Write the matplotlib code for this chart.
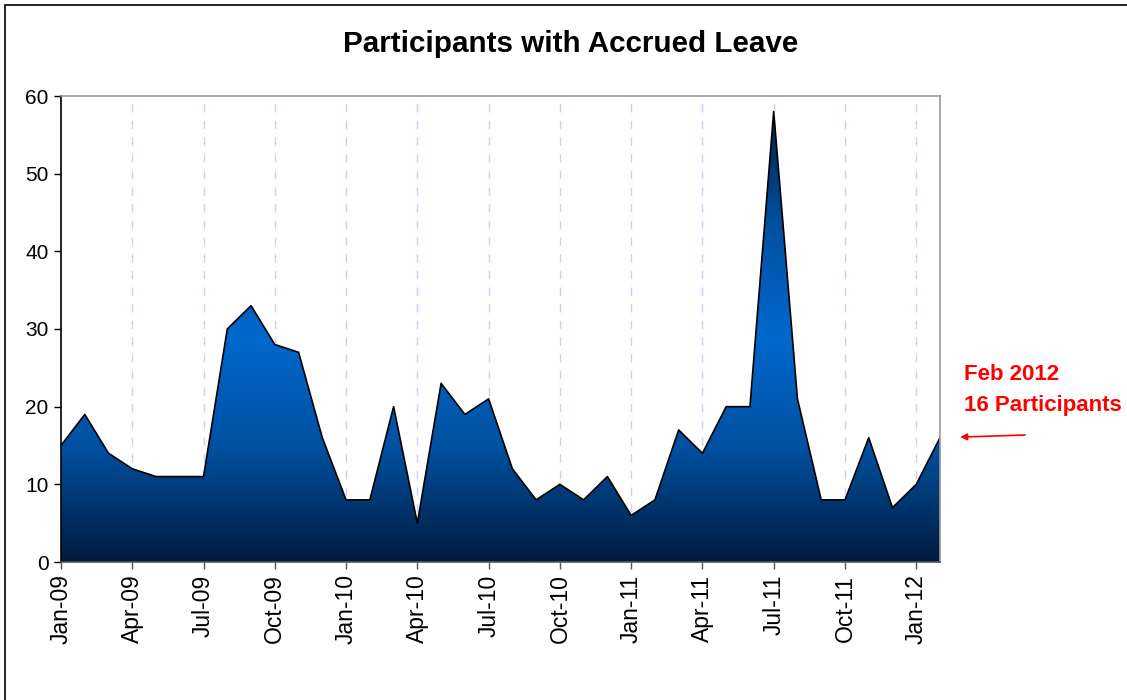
import matplotlib
matplotlib.use("Agg")
import matplotlib.pyplot as plt
import numpy as np
from matplotlib.colors import LinearSegmentedColormap
from matplotlib.patches import Polygon, Rectangle

plt.rcParams['font.family'] = ['Liberation Sans', 'DejaVu Sans']

months = ["Jan-09","Feb-09","Mar-09","Apr-09","May-09","Jun-09","Jul-09","Aug-09","Sep-09","Oct-09","Nov-09","Dec-09",
          "Jan-10","Feb-10","Mar-10","Apr-10","May-10","Jun-10","Jul-10","Aug-10","Sep-10","Oct-10","Nov-10","Dec-10",
          "Jan-11","Feb-11","Mar-11","Apr-11","May-11","Jun-11","Jul-11","Aug-11","Sep-11","Oct-11","Nov-11","Dec-11",
          "Jan-12","Feb-12"]
participants = [15, 19, 14, 12, 11, 11, 11, 30, 33, 28, 27, 16,
                8, 8, 20, 5, 23, 19, 21, 12, 8, 10, 8, 11,
                6, 8, 17, 14, 20, 20, 58, 21, 8, 8, 16, 7,
                10, 16]
y_ticks = [0, 10, 20, 30, 40, 50, 60]

fig = plt.figure(figsize=(11.27, 7.0), dpi=100)
fig.patches.append(Rectangle((5/1127, -0.01), 1.2, 1 - 5/700 + 0.01, transform=fig.transFigure,
                             fill=False, edgecolor='black', linewidth=1.2))
ax = fig.add_axes([61/1127, 1 - 562/700, (940 - 61)/1127, (562 - 96)/700])

x = np.arange(len(participants))
y = np.array(participants, dtype=float)

cmap = LinearSegmentedColormap.from_list('g', ['#001a3d', '#0050a0', '#0068cc', '#0050a0', '#001f48'])
ymax = y.max()
grad = np.linspace(0, 1, 256).reshape(-1, 1)
im = ax.imshow(grad, cmap=cmap, aspect='auto', origin='lower',
               extent=[x[0], x[-1], 0, ymax], zorder=2)
verts = np.column_stack([np.r_[x[0], x, x[-1]], np.r_[0, y, 0]])
poly = Polygon(verts, closed=True, facecolor='none', edgecolor='none')
ax.add_patch(poly)
im.set_clip_path(poly)
ax.plot(x, y, color='black', linewidth=1.2, zorder=3)
ax.plot([x[-1], x[-1]], [0, y[-1]], color='black', linewidth=1.0, zorder=3)

ax.set_xlim(x[0], x[-1])
ax.set_ylim(0, 60)
tick_pos = list(range(0, len(months), 3))
ax.set_xticks(tick_pos)
ax.set_xticklabels([months[i] for i in tick_pos], rotation=90, fontsize=16.5)
ax.set_yticks(y_ticks)
ax.set_yticklabels([str(v) for v in y_ticks], fontsize=15)
ax.tick_params(axis='both', direction='out', length=5, width=1, colors='black', pad=4)
ax.tick_params(axis='x', color='#555555')
for p in tick_pos[1:]:
    ax.axvline(p, color='#ccccff', linestyle=(0, (6, 6)), linewidth=1, zorder=1)

ax.spines['left'].set_color('black')
ax.spines['bottom'].set_color('#555555')
ax.spines['top'].set_color('#999999')
ax.spines['right'].set_color('#999999')
for s in ax.spines.values():
    s.set_linewidth(1.2)
    s.set_zorder(4)

fig.text(571/1127, 1 - 44/700, "Participants with Accrued Leave", ha='center', va='center',
         fontsize=21.3, fontweight='bold')
fig.text(964/1127, 1 - 390/700, "Feb 2012\n16 Participants", ha='left', va='center',
         fontsize=16, fontweight='bold', color='red', linespacing=1.6)
ax.annotate("", xy=(x[-1], y[-1]), xycoords='data',
            xytext=(1025/1127, 1 - 435/700), textcoords='figure fraction',
            arrowprops=dict(arrowstyle='-|>', color='red', lw=1.2, mutation_scale=10,
                            shrinkA=0, shrinkB=14.5),
            annotation_clip=False)

fig.savefig("out.png", dpi=100)
